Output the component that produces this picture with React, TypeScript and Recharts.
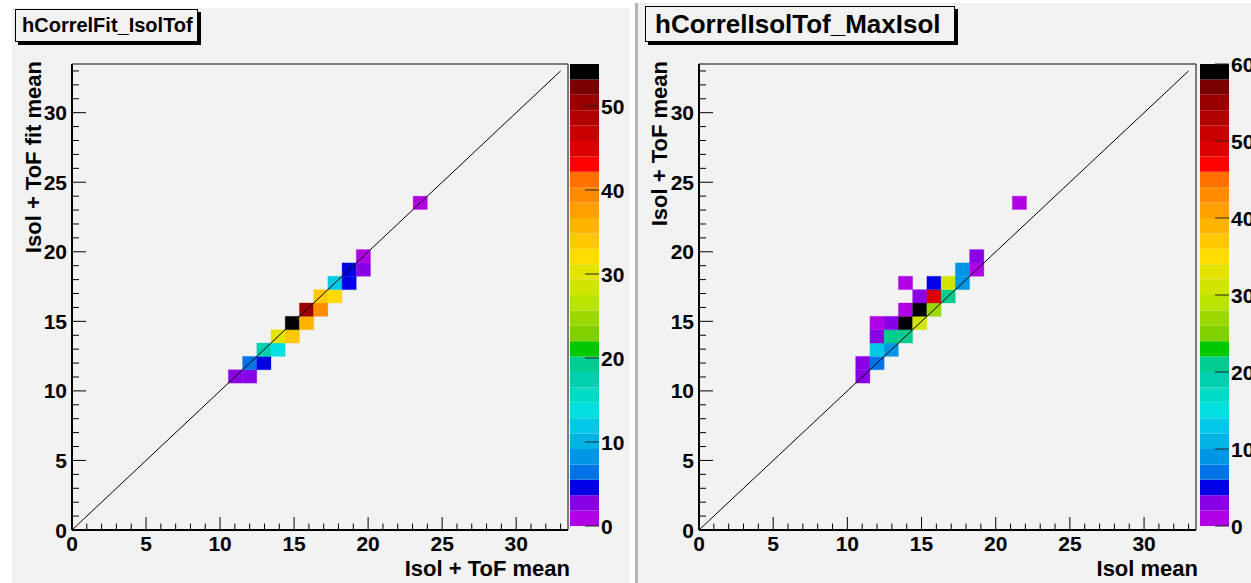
import React from "react";
import {
  ComposedChart,
  BarChart,
  Bar,
  Line,
  XAxis,
  YAxis,
  ReferenceArea,
  ReferenceLine,
} from "recharts";

const FONT = '"Liberation Sans", Arial, Helvetica, sans-serif';

// ROOT-like rainbow palette, lowest band first
const PALETTE = [
  "#b000e6", "#8a00e6", "#0000e6", "#0074e6", "#0096e6",
  "#00b4e6", "#00c8e6", "#00e0e0", "#00dcc8", "#00d0b0",
  "#00cc90", "#00c800", "#80d000", "#9ad800", "#b8e400",
  "#d0e600", "#e4e400", "#ffdc00", "#ffc800", "#ffb400",
  "#ffa000", "#ff8c00", "#ff7000", "#ff0000", "#dc0000",
  "#c80000", "#b00000", "#9a0000", "#7a0000", "#000000",
];

// both histograms share the same binning (bin k covers k*BIN_W .. (k+1)*BIN_W)
const BIN_W = 0.96;
const AXIS_MAX = 33.5;
const AXIS_TICKS = [
  0, 1, 2, 3, 4, 5, 6, 7, 8, 9, 10, 11, 12, 13, 14, 15, 16,
  17, 18, 19, 20, 21, 22, 23, 24, 25, 26, 27, 28, 29, 30, 31, 32, 33,
];
const DIAGONAL = [
  { x: 0, y: 0 },
  { x: 33, y: 33 },
];

// hCorrelFit_IsolTof
const FIT_XBIN = [11, 12, 12, 13, 13, 14, 14, 15, 15, 16, 16, 17, 17, 18, 18, 19, 19, 20, 20, 24];
const FIT_YBIN = [11, 11, 12, 12, 13, 13, 14, 14, 15, 15, 16, 16, 17, 17, 18, 18, 19, 19, 20, 24];
const FIT_COUNTS = [3, 3, 6, 5, 17, 14, 30, 34, 55, 36, 50, 39, 34, 32, 12, 5, 5, 3, 1, 1];
const FIT_ZMAX = 55;
const FIT_ZTICKS = [0, 10, 20, 30, 40, 50];

// hCorrelIsolTof_MaxIsol
const MAX_XBIN = [11, 11, 12, 12, 13, 12, 13, 14, 12, 13, 14, 15, 14, 15, 16, 15, 16, 17, 14, 16, 17, 18, 18, 19, 19, 22];
const MAX_YBIN = [11, 12, 12, 13, 13, 14, 14, 14, 15, 15, 15, 15, 16, 16, 16, 17, 17, 17, 18, 18, 18, 18, 19, 19, 20, 24];
const MAX_COUNTS = [3, 3, 7, 13, 9, 3, 21, 21, 1, 3, 60, 31, 1, 58, 27, 3, 49, 21, 1, 5, 31, 9, 9, 1, 3, 1];
const MAX_ZMAX = 60;
const MAX_ZTICKS = [0, 10, 20, 30, 40, 50, 60];

const LABEL_STYLE = { fontFamily: FONT, fontWeight: 700, fontSize: 21, fill: "#000" };
const TITLE_STYLE = { fontFamily: FONT, fontWeight: 700, fontSize: 22, fill: "#000" };

function zColor(z: number, zMax: number) {
  const idx = Math.min(PALETTE.length - 1, Math.floor(z / (zMax / PALETTE.length)));
  return PALETTE[idx];
}

function XTick(props: any) {
  const { x, y, payload } = props;
  const v = payload.value;
  const major = v % 5 === 0;
  return (
    <g>
      <line x1={x} x2={x} y1={y} y2={y - (major ? 13 : 6.5)} stroke="#000" strokeWidth={1} />
      {major && (
        <text x={x} y={y + 21} textAnchor="middle" style={LABEL_STYLE}>
          {v}
        </text>
      )}
    </g>
  );
}

function YTick(props: any) {
  const { x, y, payload } = props;
  const v = payload.value;
  const major = v % 5 === 0;
  return (
    <g>
      <line x1={x} x2={x + (major ? 14 : 7)} y1={y} y2={y} stroke="#000" strokeWidth={1} />
      {major && (
        <text x={x - 5} y={y + 7.5} textAnchor="end" style={LABEL_STYLE}>
          {v}
        </text>
      )}
    </g>
  );
}

function ZTick(props: any) {
  const { x, y, payload } = props;
  return (
    <g>
      <line x1={x - 14} x2={x} y1={y} y2={y} stroke="#222" strokeWidth={1} />
      <text x={x + 2} y={y + 7.5} textAnchor="start" style={LABEL_STYLE}>
        {payload.value}
      </text>
    </g>
  );
}

interface PanelProps {
  xbins: number[];
  ybins: number[];
  counts: number[];
  zMax: number;
  xTitle: string;
  yTitle: string;
  width: number;
  yAxisWidth: number;
  marginRight: number;
  yTitleX: number;
}

function HeatPanel({ xbins, ybins, counts, zMax, xTitle, yTitle, width, yAxisWidth, marginRight, yTitleX }: PanelProps) {
  return (
    <ComposedChart width={width} height={583} margin={{ top: 64, right: marginRight, bottom: 0, left: 0 }}>
      <XAxis
        type="number"
        dataKey="x"
        domain={[0, AXIS_MAX]}
        allowDataOverflow
        ticks={AXIS_TICKS}
        interval={0}
        height={53}
        tickSize={0}
        tickMargin={0}
        tickLine={false}
        axisLine={{ stroke: "#000", strokeWidth: 2 }}
        tick={<XTick />}
        label={(p: any) => {
          const vb = p.viewBox;
          return (
            <text x={vb.x + vb.width + 2} y={vb.y + 46} textAnchor="end" style={TITLE_STYLE}>
              {xTitle}
            </text>
          );
        }}
      />
      <YAxis
        type="number"
        dataKey="y"
        domain={[0, AXIS_MAX]}
        allowDataOverflow
        ticks={AXIS_TICKS}
        interval={0}
        width={yAxisWidth}
        tickSize={0}
        tickMargin={0}
        tickLine={false}
        axisLine={{ stroke: "#000", strokeWidth: 2 }}
        tick={<YTick />}
        label={(p: any) => {
          const vb = p.viewBox;
          const tx = vb.x + yTitleX;
          const ty = vb.y - 3;
          return (
            <text x={tx} y={ty} transform={`rotate(-90 ${tx} ${ty})`} textAnchor="end" style={TITLE_STYLE}>
              {yTitle}
            </text>
          );
        }}
      />
      {xbins.map((xb, i) => (
        <ReferenceArea
          key={`cell-${i}`}
          x1={xb * BIN_W}
          x2={(xb + 1) * BIN_W}
          y1={ybins[i] * BIN_W}
          y2={(ybins[i] + 1) * BIN_W}
          fill={zColor(counts[i], zMax)}
          fillOpacity={1}
          stroke={zColor(counts[i], zMax)}
          strokeWidth={0.3}
          ifOverflow="visible"
        />
      ))}
      <ReferenceLine y={AXIS_MAX} stroke="#555" strokeWidth={1.5} />
      <ReferenceLine x={AXIS_MAX} stroke="#555" strokeWidth={1.5} />
      <Line
        data={DIAGONAL}
        dataKey="y"
        type="linear"
        stroke="#000"
        strokeWidth={1}
        dot={false}
        activeDot={false}
        isAnimationActive={false}
      />
    </ComposedChart>
  );
}

function ZBar({ zMax, ticks }: { zMax: number; ticks: number[] }) {
  const bw = zMax / PALETTE.length;
  const row: Record<string, any> = { name: "z" };
  PALETTE.forEach((_, i) => {
    row[`b${i}`] = bw;
  });
  return (
    <BarChart width={70} height={583} data={[row]} margin={{ top: 64, right: 0, bottom: 57, left: 10 }} barCategoryGap={0}>
      <XAxis dataKey="name" hide />
      <YAxis
        orientation="right"
        type="number"
        domain={[0, zMax]}
        allowDataOverflow
        ticks={ticks}
        interval={0}
        width={31}
        axisLine={false}
        tickLine={false}
        tickSize={0}
        tickMargin={0}
        tick={<ZTick />}
      />
      {PALETTE.map((c, i) => (
        <Bar key={`band-${i}`} dataKey={`b${i}`} stackId="z" fill={c} isAnimationActive={false} />
      ))}
    </BarChart>
  );
}

export default function App() {
  return (
    <div
      style={{
        position: "absolute",
        left: 0,
        top: 0,
        width: 1251,
        height: 583,
        overflow: "hidden",
        background: "#fff",
        fontFamily: FONT,
      }}
    >
      <div style={{ position: "absolute", left: 12, top: 8, width: 618, height: 575, background: "#f2f2f2" }} />
      <div
        style={{
          position: "absolute",
          left: 635,
          top: 3,
          width: 616,
          height: 580,
          background: "#f2f2f2",
          borderLeft: "3px solid #b4b4b4",
          boxSizing: "border-box",
        }}
      />

      <div style={{ position: "absolute", left: 0, top: 0 }}>
        <HeatPanel
          xbins={FIT_XBIN}
          ybins={FIT_YBIN}
          counts={FIT_COUNTS}
          zMax={FIT_ZMAX}
          xTitle="Isol + ToF mean"
          yTitle="Isol + ToF fit mean"
          width={600}
          yAxisWidth={72}
          marginRight={32}
          yTitleX={41}
        />
      </div>
      <div style={{ position: "absolute", left: 560, top: 0 }}>
        <ZBar zMax={FIT_ZMAX} ticks={FIT_ZTICKS} />
      </div>

      <div style={{ position: "absolute", left: 630, top: 0 }}>
        <HeatPanel
          xbins={MAX_XBIN}
          ybins={MAX_YBIN}
          counts={MAX_COUNTS}
          zMax={MAX_ZMAX}
          xTitle="Isol mean"
          yTitle="Isol + ToF mean"
          width={570}
          yAxisWidth={69}
          marginRight={4}
          yTitleX={37}
        />
      </div>
      <div style={{ position: "absolute", left: 1190, top: 0 }}>
        <ZBar zMax={MAX_ZMAX} ticks={MAX_ZTICKS} />
      </div>

      <div
        style={{
          position: "absolute",
          left: 15,
          top: 9,
          width: 183,
          height: 33,
          boxSizing: "border-box",
          border: "1px solid #000",
          boxShadow: "3px 3px 0 #000",
          background: "#f2f2f2",
          fontWeight: 700,
          fontSize: 20,
          lineHeight: "31px",
          paddingLeft: 6,
          whiteSpace: "nowrap",
        }}
      >
        hCorrelFit_IsolTof
      </div>
      <div
        style={{
          position: "absolute",
          left: 645,
          top: 6,
          width: 310,
          height: 36,
          boxSizing: "border-box",
          border: "1px solid #000",
          boxShadow: "3px 3px 0 #000",
          background: "#f2f2f2",
          fontWeight: 700,
          fontSize: 26,
          lineHeight: "34px",
          paddingLeft: 9,
          whiteSpace: "nowrap",
        }}
      >
        hCorrelIsolTof_MaxIsol
      </div>
    </div>
  );
}
